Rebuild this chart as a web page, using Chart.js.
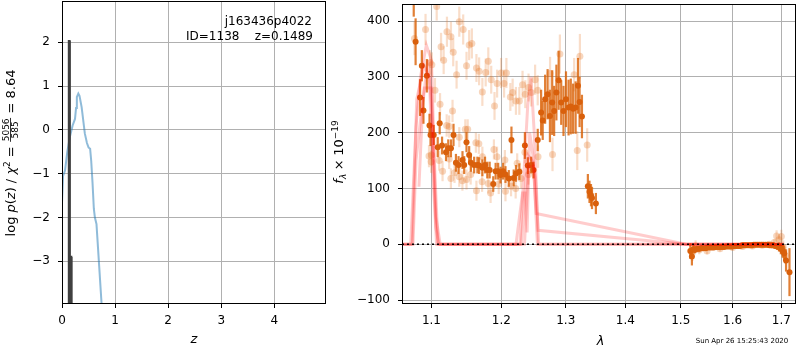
<!DOCTYPE html>
<html><head><meta charset="utf-8">
<script src="https://cdn.jsdelivr.net/npm/chart.js@4.4.0/dist/chart.umd.min.js"></script>
<style>
html,body{margin:0;padding:0;background:#fff;width:800px;height:350px;overflow:hidden;}
body{position:relative;}
canvas{position:absolute;top:0;}
#c1{left:0}
#c2{left:328px}
</style></head><body>
<canvas id="c1" width="335" height="350"></canvas>
<canvas id="c2" width="472" height="350"></canvas>
<script>
// ---------- data: left panel ----------
const zTicks = [0, 1, 2, 3, 4];
const pTicks = [-3, -2, -1, 0, 1, 2];
const zPdf = [0, 0.02, 0.057, 0.1, 0.15, 0.2, 0.245, 0.265, 0.28, 0.308, 0.33, 0.37, 0.43, 0.47, 0.5, 0.53, 0.55, 0.575, 0.6, 0.62, 0.65, 0.7, 0.75];
const logP = [-1.65, -1.05, -0.93, -0.5, -0.15, 0.1, 0.25, 0.5, 0.75, 0.83, 0.78, 0.52, -0.08, -0.3, -0.4, -0.43, -0.7, -1.2, -1.8, -2.0, -2.15, -3.1, -4.05];
const zChi = [0.125, 0.13, 0.142, 0.147, 0.16, 0.168, 0.174, 0.18];
const chiVal = [-4.5, 2.03, 2.03, -4.5, -4.5, -2.9, -2.9, -4.5];

// ---------- data: right panel ----------
const lamTicks = [1.1, 1.2, 1.3, 1.4, 1.5, 1.6, 1.7];
const fluxTicks = [-100, 0, 100, 200, 300, 400];

const faintLam = [1.077,1.0919,1.1072,1.1132,1.1168,1.1214,1.127,1.1302,1.1349,1.1387,1.1443,1.149,1.1528,1.1567,1.1633,1.1672,1.1719,1.1768,1.1806,1.1849,1.1898,1.1936,1.1995,1.204,1.2075,1.2134,1.2169,1.2219,1.2271,1.232,1.2362,1.2412,1.2453,1.2514,1.2555,1.2749,1.2788,1.2906,1.3137,1.3188,1.3231,1.3352,
 1.0981,1.1005,1.1048,1.1118,1.121,1.1245,1.1292,1.1387,1.1473,1.1507,1.1625,1.1668,1.1719,1.1889,1.1935,1.2052,1.2238,1.0966,1.0995,1.1,1.1107,1.1153,1.1245,1.1269,1.132,1.1387,1.1432,1.149,1.155,1.1633,1.1715,1.1805,1.184,1.196,1.2061,1.2145,1.2215,1.2296,1.2356,1.2412,1.256,
 1.522,1.528,1.535,1.55,1.575,1.6,1.62,1.64,1.66,1.675,1.685,1.69,1.695,1.7,1.704,1.708];
const faintFlux = [369,385,426,354,330,381,372,344,304,399,385,320,357,360,316,310,273,308,328,295,248,288,307,288,307,264,272,257,257,286,269,281,272,295,276,306,161,341,304,168,337,178,
 326,322,276,251,213,211,239,192,206,206,182,180,157,170,157,151,145,158,148,160,150,131,153,118,128,121,114,116,125,96,112,109,92,108,95,104,100,118,165,125,157,
 -15,-3,-10,-12,-8,-6,-4,-3,-2,0,3,15,8,14,-5,-20];
const faintErr = [30,28,25,25,25,27,27,25,25,27,27,25,27,27,25,25,25,25,25,25,25,25,27,25,27,25,25,25,25,25,25,25,25,27,27,30,30,35,30,35,40,30,
 22,22,22,20,20,20,20,18,18,18,18,18,18,18,18,18,18,20,20,20,18,18,18,18,18,18,18,18,18,18,18,18,18,18,18,18,18,18,20,18,20,
 15,10,8,6,5,5,5,5,5,5,6,10,10,12,12,15];

const darkLam = [1.076,1.0785,1.0845,1.0869,1.0891,1.0937,1.0973,1.0987,1.1031,1.1086,1.1113,1.1146,1.1201,1.1232,1.127,1.1306,1.134,1.1377,1.1433,1.1457,1.149,1.1528,1.1553,1.16,1.1647,1.1672,1.1719,1.1758,1.1791,1.1826,1.1879,1.1914,1.1952,1.1987,1.2026,1.2061,1.2111,1.2151,1.2185,1.222,1.2271,1.2356,1.2401,1.2453,1.2489,1.2555,
 1.2608,1.2633,1.2671,1.271,1.2747,1.2783,1.2814,1.285,1.2886,1.2927,1.2964,1.3004,1.3046,1.3082,1.312,1.3161,1.3199,1.3226,1.3265,
 1.3363,1.339,1.3415,1.3432,1.3497,
 1.518,1.521,1.524,1.527,1.531,1.535,1.539,1.543,1.547,1.551,1.555,1.559,1.563,1.567,1.571,1.575,1.579,1.583,1.587,1.591,1.595,1.599,1.603,1.607,1.611,1.615,1.619,1.623,1.627,1.631,1.635,1.639,1.643,1.647,1.651,1.655,1.659,1.663,1.667,1.671,1.675,1.679,1.683,1.687,1.691,1.695,1.699,1.703,1.706,1.71,1.7173];
const darkFlux = [445,363,263,320,240,302,213,196,196,174,217,177,165,172,172,196,146,142,151,142,183,160,146,142,142,141,137,142,133,133,108,131,131,124,131,125,118,187,119,127,130,177,141,142,133,187,
 236,222,260,269,230,254,239,272,294,254,239,260,245,247,243,245,284,255,229,
 104,94,88,83,73,
 -12,-22,-9,-10,-8,-8,-7,-7,-7,-6,-6,-6,-6,-5,-5,-5,-5,-5,-4,-4,-4,-4,-3,-3,-3,-3,-2,-2,-2,-2,-2,-2,-1,-1,-1,-1,-1,-1,-1,-1,-2,-2,-2,-3,-4,-5,-8,-12,-16,-29,-50];
const darkErr = [37,42,33,28,24,30,21,20,18,18,20,16,16,16,16,20,16,16,16,16,18,16,16,15,15,15,15,15,15,15,14,15,15,15,15,15,15,24,15,15,15,24,15,15,15,20,
 41,35,44,45,47,58,45,50,53,40,45,50,50,50,45,47,50,45,39,
 22,20,20,20,19,
 14,16,8,6,5,5,5,4,4,4,4,4,4,4,4,4,4,4,4,4,4,4,4,4,4,4,4,4,4,4,4,4,4,4,4,4,4,4,4,4,4,5,5,5,6,8,10,12,14,20,43];

const model1Lam = [1.0604,1.072,1.079,1.085,1.093,1.1,1.104,1.109,1.222,1.232,1.236,1.239,1.243,1.248,1.253,1.51,1.705];
const model1Flux = [0,0,210,300,357,330,150,0,0,92,92,21,200,160,55,0,0];
const model2Lam = [1.0604,1.074,1.08,1.09,1.097,1.103,1.107,1.228,1.24,1.245,1.25,1.256,1.51,1.705];
const model2Flux = [0,0,260,320,300,100,0,0,250,300,200,25,0,0];
const model3Lam = [1.083,1.088,1.095,1.1,1.106,1.11,1.23,1.24,1.247,1.252,1.257,1.705];
const model3Flux = [103,250,330,250,30,0,0,160,150,120,0,0];
const model4Lam = [1.0604,1.075,1.079,1.09,1.1,1.106,1.112,1.235,1.241,1.249,1.255,1.705];
const model4Flux = [0,0,150,280,280,50,0,0,140,140,0,0];
const zeroLam = [1.0604, 1.7313];
const zeroFlux = [0, 0];

// ---------- helpers ----------
const FONT = 'DejaVu Sans';
Chart.defaults.font.family = FONT;
Chart.defaults.font.size = 12;
Chart.defaults.color = '#000';
const pts = (xs, ys) => xs.map((x, i) => ({x: x, y: ys[i]}));
const minus = v => v < 0 ? '\u2212' + Math.abs(v) : String(v);
const gridOpts = {color: '#b0b0b0', lineWidth: 1, drawTicks: true, tickLength: 4, tickColor: '#000', tickWidth: 1};

const frame = {id: 'frame', afterDraw(chart) {
  const {ctx, chartArea: a} = chart;
  ctx.save(); ctx.strokeStyle = '#000'; ctx.lineWidth = 1;
  ctx.strokeRect(Math.round(a.left) + 0.5, Math.round(a.top) + 0.5, Math.round(a.right - a.left) - 1, Math.round(a.bottom - a.top) - 1);
  ctx.restore();
}};

const errPlugin = {id: 'err', beforeDatasetDraw(chart, args) {
  const ds = chart.data.datasets[args.index];
  if (!ds.errs) return;
  const ys = chart.scales.y, ctx = chart.ctx, a = chart.chartArea;
  ctx.save();
  ctx.beginPath(); ctx.rect(a.left, a.top, a.right - a.left, a.bottom - a.top); ctx.clip();
  ctx.strokeStyle = ds.errColor; ctx.lineWidth = ds.errWidth;
  args.meta.data.forEach((p, i) => {
    const v = ds.data[i].y, e = ds.errs[i];
    ctx.beginPath(); ctx.moveTo(p.x, ys.getPixelForValue(v - e)); ctx.lineTo(p.x, ys.getPixelForValue(v + e)); ctx.stroke();
  });
  ctx.restore();
}};

function drawRich(ctx, segs, x, y, rot, align) {
  ctx.save(); ctx.translate(x, y); ctx.rotate(rot);
  let w = 0;
  for (const s of segs) {
    ctx.font = s.f;
    s.w = s.frac ? Math.max(ctx.measureText(s.frac[0]).width, ctx.measureText(s.frac[1]).width) + 2 : ctx.measureText(s.t).width;
    s.w += 2 * (s.pad || 0);
    w += s.w;
  }
  let cx = align === 'center' ? -w / 2 : (align === 'right' ? -w : 0);
  ctx.fillStyle = '#000'; ctx.textBaseline = 'alphabetic';
  for (const s of segs) {
    ctx.font = s.f;
    const p = s.pad || 0;
    if (s.frac) {
      ctx.textAlign = 'center';
      ctx.fillText(s.frac[0], cx + s.w / 2, -5.8);
      ctx.fillText(s.frac[1], cx + s.w / 2, 3.4);
      ctx.fillRect(cx + p + 0.5, -4.8, s.w - 2 * p - 1, 0.8);
    } else {
      ctx.textAlign = 'left';
      ctx.fillText(s.t, cx + p, s.dy || 0);
    }
    cx += s.w;
  }
  ctx.restore();
}

const R = '12px "DejaVu Sans"', I = 'italic 12px "DejaVu Sans"';
const TR = '13px "DejaVu Sans"', TI = 'italic 13px "DejaVu Sans"', TS = '9px "DejaVu Sans"', TSI = 'italic 9px "DejaVu Sans"';

const leftText = {id: 'leftText', afterDraw(chart) {
  const ctx = chart.ctx;
  drawRich(ctx, [{t: 'j163436p4022', f: R}], 312, 24.5, 0, 'right');
  drawRich(ctx, [{t: 'ID=1138    z=0.1489', f: R}], 313, 39.5, 0, 'right');
  drawRich(ctx, [{t: 'z', f: TI}], 194, 343, 0, 'center');
  drawRich(ctx, [
    {t: 'log ', f: TR}, {t: 'p', f: TI}, {t: '(', f: TR}, {t: 'z', f: TI}, {t: ') / ', f: TR},
    {t: '\u03c7', f: TI}, {t: '2', f: TS, dy: -5.5}, {t: '=', f: TR, pad: 4},
    {frac: ['5056', '585'], f: TS}, {t: '=', f: TR, pad: 4}, {t: '8.64', f: TR}
  ], 15, 153, -Math.PI / 2, 'center');
}};

const rightText = {id: 'rightText', afterDraw(chart) {
  const ctx = chart.ctx;
  drawRich(ctx, [{t: '\u03bb', f: TI}], 272.5, 345, 0, 'center');
  drawRich(ctx, [{t: 'Sun Apr 26 15:25:43 2020', f: '7px "DejaVu Sans"'}], 414, 342.5, 0, 'center');
  drawRich(ctx, [
    {t: 'f', f: TI}, {t: '\u03bb', f: TSI, dy: 3}, {t: '\u00d7', f: TR, pad: 3.5}, {t: '10', f: TR}, {t: '\u221219', f: TS, dy: -5.5}
  ], 15, 152, -Math.PI / 2, 'center');
}};

// ---------- left chart ----------
new Chart(document.getElementById('c1'), {
  type: 'scatter',
  data: {datasets: [
    {data: pts(zChi, chiVal), showLine: true, borderColor: '#404040', borderWidth: 2.2, pointRadius: 0, order: 1},
    {data: pts(zPdf, logP), showLine: true, borderColor: 'rgba(31,119,180,0.5)', borderWidth: 2, pointRadius: 0, order: 2}
  ]},
  options: {
    responsive: false, animation: false, devicePixelRatio: 1,
    layout: {padding: {top: 1, right: 9, left: 0, bottom: 0}},
    plugins: {legend: {display: false}, tooltip: {enabled: false}},
    scales: {
      x: {type: 'linear', min: 0, max: 4.975, grid: gridOpts, border: {display: false},
        ticks: {padding: 6, autoSkip: false, maxRotation: 0, callback: v => minus(v)},
        afterBuildTicks: s => { s.ticks = zTicks.map(v => ({value: v})); },
        afterFit: s => { s.height = 46; s.paddingLeft = 0; s.paddingRight = 0; }},
      y: {type: 'linear', min: -3.975, max: 2.943, grid: gridOpts, border: {display: false},
        ticks: {padding: 8, autoSkip: false, callback: v => minus(v)},
        afterBuildTicks: s => { s.ticks = pTicks.map(v => ({value: v})); },
        afterFit: s => { s.width = 62; s.paddingTop = 0; s.paddingBottom = 0; }}
    }
  },
  plugins: [frame, leftText]
});

// ---------- right chart ----------
const modelStyle = {showLine: true, borderColor: 'rgba(255,0,0,0.2)', borderWidth: 3, pointRadius: 0, order: 2};
new Chart(document.getElementById('c2'), {
  type: 'scatter',
  data: {datasets: [
    {data: pts(zeroLam, zeroFlux), showLine: true, borderColor: '#000', borderWidth: 1.6, borderDash: [2, 3], pointRadius: 0, order: 1},
    Object.assign({data: pts(model1Lam, model1Flux)}, modelStyle),
    Object.assign({data: pts(model2Lam, model2Flux)}, modelStyle),
    Object.assign({data: pts(model3Lam, model3Flux)}, modelStyle),
    Object.assign({data: pts(model4Lam, model4Flux)}, modelStyle),
    {data: pts(darkLam, darkFlux), errs: darkErr, errColor: 'rgba(217,95,2,0.8)', errWidth: 2.2,
      pointRadius: 3, backgroundColor: '#d9600c', borderColor: '#d9600c', borderWidth: 0, order: 4},
    {data: pts(faintLam, faintFlux), errs: faintErr, errColor: 'rgba(230,120,40,0.25)', errWidth: 2.2,
      pointRadius: 3.5, backgroundColor: 'rgba(230,120,40,0.3)', borderColor: 'rgba(230,120,40,0.3)', borderWidth: 0, order: 5}
  ]},
  options: {
    responsive: false, animation: false, devicePixelRatio: 1,
    layout: {padding: {top: 1, right: 1, left: 0, bottom: 0}},
    plugins: {legend: {display: false}, tooltip: {enabled: false}},
    scales: {
      x: {type: 'logarithmic', min: 1.0604, max: 1.7313, grid: gridOpts, border: {display: false},
        ticks: {padding: 6, autoSkip: false, maxRotation: 0, callback: v => Number(v).toFixed(1)},
        afterBuildTicks: s => { s.ticks = lamTicks.map(v => ({value: v})); },
        afterFit: s => { s.height = 46; s.paddingLeft = 0; s.paddingRight = 0; }},
      y: {type: 'linear', min: -107.1, max: 430.7, grid: gridOpts, border: {display: false},
        ticks: {padding: 8, autoSkip: false, callback: v => minus(v)},
        afterBuildTicks: s => { s.ticks = fluxTicks.map(v => ({value: v})); },
        afterFit: s => { s.width = 74; s.paddingTop = 0; s.paddingBottom = 0; }}
    }
  },
  plugins: [errPlugin, frame, rightText]
});
</script>
</body></html>
